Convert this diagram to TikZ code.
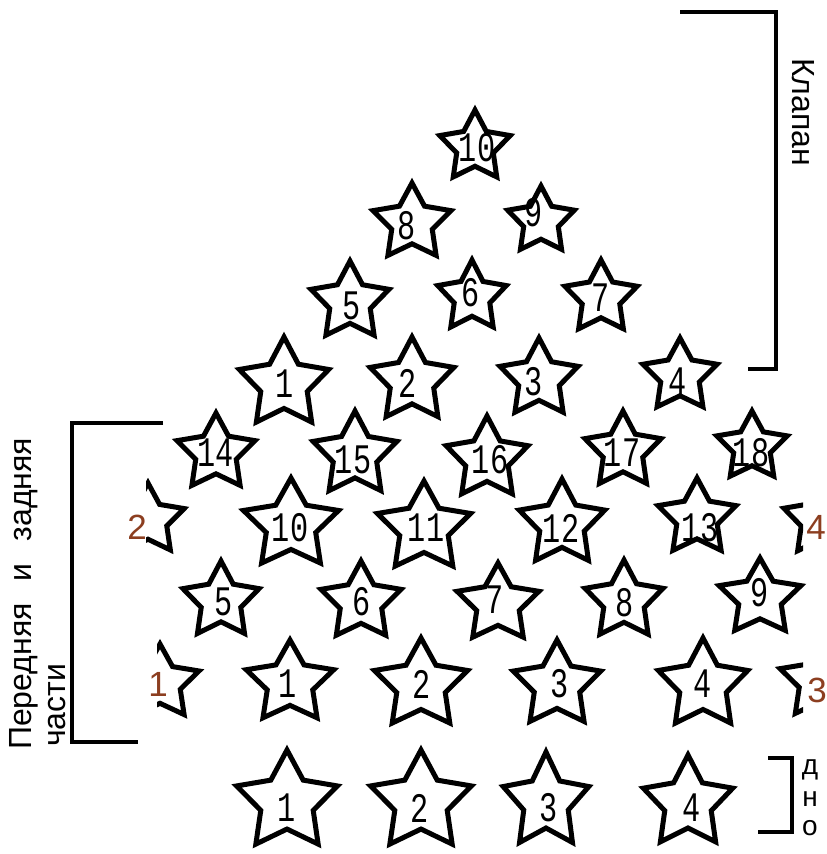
\documentclass[tikz,border=0pt]{standalone}
\usepackage{fontspec}
\setmainfont{Liberation Sans}
\newfontfamily\digitfont[FakeStretch=0.72]{Liberation Mono}
\definecolor{rust}{RGB}{140,62,32}
\tikzset{
  starline/.style={draw=black, line width=5pt, line join=miter, fill=white},
  num/.style={font=\digitfont\fontsize{42}{42}\selectfont, inner sep=0pt},
  rednum/.style={font=\fontsize{35}{35}\selectfont, text=rust, inner sep=0pt},
  bracket/.style={draw=black, line width=4pt},
  side/.style={font=\fontsize{32}{34}\selectfont, inner sep=0pt},
  letter/.style={font=\fontsize{28}{28}\selectfont, inner sep=0pt},
}
\newcommand\StarAt[4]{\path[starline, shift={(#1,#2)}, xscale={#3+2}, yscale={#4+2}]
  (-90:1) -- (-126:0.52) -- (-162:1) -- (-198:0.52) -- (-234:1) -- (-270:0.52)
  -- (-306:1) -- (-342:0.52) -- (-18:1) -- (-54:0.52) -- cycle;}
\begin{document}
\begin{tikzpicture}[x=1pt,y=-1pt]
\useasboundingbox[fill=white] (0,0) rectangle (827,854);
% --- flap (Клапан)
\StarAt{475}{147}{35}{35}
\StarAt{412}{223}{39}{38}
\StarAt{541}{221}{33}{33}
\StarAt{350}{302}{39}{39}
\StarAt{472}{297}{34}{35}
\StarAt{601}{298}{36}{36}
\StarAt{284}{384}{45}{45}
\StarAt{412}{381}{42}{42}
\StarAt{539}{379}{39}{39}
\StarAt{680}{376}{37}{36}
% --- front and back
\StarAt{216}{453}{39}{38}
\StarAt{355}{455}{42}{42}
\StarAt{487}{459}{41}{41}
\StarAt{623}{451}{38}{38}
\StarAt{752}{447}{35}{34}
\begin{scope}
  \clip (146,470) rectangle (230,580);
  \StarAt{148}{520}{36}{35}
\end{scope}
\StarAt{291}{525}{48}{45}
\StarAt{424}{528}{47}{45}
\StarAt{562}{524}{43}{43}
\StarAt{697}{518}{39}{38}
\begin{scope}
  \clip (760,470) rectangle (803,580);
  \StarAt{820}{520}{36}{36}
\end{scope}
\StarAt{221}{601}{38}{38}
\StarAt{361}{602}{40}{39}
\StarAt{498}{604}{41}{39}
\StarAt{624}{601}{39}{39}
\StarAt{760}{598}{41}{38}
\begin{scope}
  \clip (157,630) rectangle (240,740);
  \StarAt{160}{683}{39}{37}
\end{scope}
\StarAt{290}{683}{44}{41}
\StarAt{421}{685}{47}{45}
\StarAt{557}{685}{44}{43}
\StarAt{703}{685}{45}{45}
\begin{scope}
  \clip (760,630) rectangle (803,740);
  \StarAt{820}{681}{40}{38}
\end{scope}
% --- bottom
\StarAt{287}{802}{51}{50}
\StarAt{421}{802}{51}{50}
\StarAt{546}{802}{43}{48}
\StarAt{688}{803}{45}{46}
% --- labels
\node[num] (f10) at (477,148) {10};
\node[num] (f8) at (407,226) {8};
\node[num] (f9) at (534,213) {9};
\node[num] (f5) at (352,306) {5};
\node[num] (f6) at (471,293) {6};
\node[num] (f7) at (601,298) {7};
\node[num] (f1) at (285,384) {1};
\node[num] (f2) at (408,383) {2};
\node[num] (f3) at (534,382) {3};
\node[num] (f4) at (678,382) {4};
\node[num] (b14) at (216,453) {14};
\node[num] (b15) at (353,460) {15};
\node[num] (b16) at (490,460) {16};
\node[num] (b17) at (622,453) {17};
\node[num] (b18) at (751,453) {18};
\node[num] (b10) at (290,528) {10};
\node[num] (b11) at (426,528) {11};
\node[num] (b12) at (561,528) {12};
\node[num] (b13) at (700,528) {13};
\node[num] (b5) at (224,602) {5};
\node[num] (b6) at (362,602) {6};
\node[num] (b7) at (495,600) {7};
\node[num] (b8) at (625,603) {8};
\node[num] (b9) at (760,593) {9};
\node[num] (b1) at (288,684) {1};
\node[num] (b2) at (422,684) {2};
\node[num] (b3) at (560,684) {3};
\node[num] (b4) at (703,684) {4};
\node[num] (d1) at (287,808) {1};
\node[num] (d2) at (420,808) {2};
\node[num] (d3) at (549,808) {3};
\node[num] (d4) at (692,808) {4};
\node[rednum] (r2) at (137,527) {2};
\node[rednum] (r4) at (816,527) {4};
\node[rednum] (r1) at (158,684) {1};
\node[rednum] (r3) at (817,690) {3};
% --- brackets
\coordinate (k1) at (680,12);
\coordinate (k2) at (776,12);
\coordinate (k3) at (776,369);
\coordinate (k4) at (748,369);
\draw[bracket] (k1) -- (k2) -- (k3) -- (k4);
\node[side, rotate=-90, anchor=base west] (klapan) at (792,58) {Клапан};
\coordinate (p1) at (163,423);
\coordinate (p2) at (72,423);
\coordinate (p3) at (72,742);
\coordinate (p4) at (138,742);
\draw[bracket] (p1) -- (p2) -- (p3) -- (p4);
\node[side, rotate=90, anchor=base west] (perA) at (31,750) {{\spaceskip=22pt Передняя и задняя}};
\node[side, rotate=90, anchor=base west] (perB) at (65,747) {части};
\coordinate (n1) at (768,758);
\coordinate (n2) at (792,758);
\coordinate (n3) at (792,832);
\coordinate (n4) at (758,832);
\draw[bracket] (n1) -- (n2) -- (n3) -- (n4);
\node[letter, anchor=base] (dD) at (810,774) {д};
\node[letter, anchor=base] (dN) at (810,806) {н};
\node[letter, anchor=base] (dO) at (810,835) {о};
\end{tikzpicture}
\end{document}
